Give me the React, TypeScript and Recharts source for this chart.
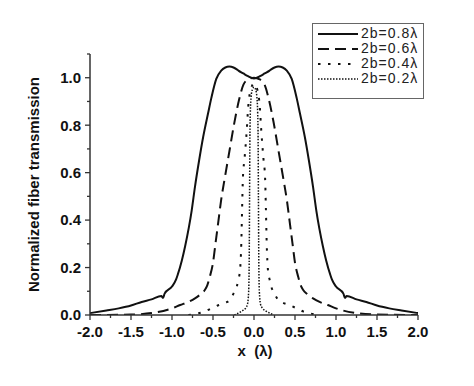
import React from 'react';
import { LineChart, Line, XAxis, YAxis, Legend } from 'recharts';

const FONT = "'Liberation Sans', Arial, Helvetica, sans-serif";

const xTicks = [-2, -1.75, -1.5, -1.25, -1, -0.75, -0.5, -0.25, 0, 0.25, 0.5, 0.75, 1, 1.25, 1.5, 1.75, 2];
const yTicks = [0, 0.1, 0.2, 0.3, 0.4, 0.5, 0.6, 0.7, 0.8, 0.9, 1.0, 1.1];
const seriesNames = ['2b=0.8λ', '2b=0.6λ', '2b=0.4λ', '2b=0.2λ'];
const xLabel = 'x  (λ)';
const yLabel = 'Normalized fiber transmission';

// 2b = 0.8 lambda
const x08 = [-2, -1.8, -1.65, -1.5, -1.37, -1.25, -1.13, -1.11, -1.09, -1.0, -0.95, -0.93, -0.88, -0.84, -0.76, -0.72, -0.67, -0.62, -0.56, -0.52, -0.46, -0.4, -0.35, -0.3, -0.25, -0.21, -0.19, -0.13, -0.08, 0,
  0.08, 0.13, 0.19, 0.21, 0.25, 0.3, 0.35, 0.4, 0.46, 0.52, 0.56, 0.62, 0.67, 0.72, 0.76, 0.84, 0.88, 0.93, 0.95, 1.0, 1.09, 1.11, 1.13, 1.25, 1.37, 1.5, 1.65, 1.8, 2];
const y08 = [0.008, 0.019, 0.028, 0.04, 0.055, 0.066, 0.08, 0.072, 0.09, 0.12, 0.15, 0.17, 0.23, 0.29, 0.44, 0.54, 0.65, 0.75, 0.85, 0.915, 0.995, 1.03, 1.043, 1.047, 1.043, 1.035, 1.03, 1.018, 1.008, 0.997,
  1.008, 1.018, 1.03, 1.035, 1.043, 1.047, 1.043, 1.03, 0.995, 0.915, 0.85, 0.75, 0.65, 0.54, 0.44, 0.29, 0.23, 0.17, 0.15, 0.12, 0.09, 0.072, 0.08, 0.066, 0.055, 0.04, 0.028, 0.019, 0.008];

// 2b = 0.6 lambda
const x06 = [-2, -1.5, -1.25, -1.0, -0.9, -0.8, -0.72, -0.65, -0.6, -0.57, -0.54, -0.5, -0.47, -0.44, -0.4, -0.355, -0.3, -0.24, -0.18, -0.13, -0.07, 0,
  0.07, 0.13, 0.18, 0.24, 0.3, 0.355, 0.4, 0.44, 0.47, 0.5, 0.54, 0.57, 0.6, 0.65, 0.72, 0.8, 0.9, 1.0, 1.25, 1.5, 2];
const y06 = [0, 0.002, 0.008, 0.028, 0.042, 0.055, 0.07, 0.088, 0.105, 0.125, 0.16, 0.22, 0.3, 0.38, 0.486, 0.58, 0.69, 0.81, 0.91, 0.97, 0.993, 1.0,
  0.993, 0.97, 0.91, 0.81, 0.69, 0.58, 0.486, 0.38, 0.3, 0.22, 0.16, 0.125, 0.105, 0.088, 0.07, 0.055, 0.042, 0.028, 0.008, 0.002, 0];

// 2b = 0.4 lambda
const x04 = [-0.8, -0.74, -0.6, -0.52, -0.43, -0.35, -0.305, -0.25, -0.21, -0.19, -0.17, -0.155, -0.145, -0.135, -0.115, -0.09, -0.07, -0.04, 0,
  0.04, 0.07, 0.09, 0.115, 0.135, 0.145, 0.155, 0.17, 0.19, 0.21, 0.25, 0.305, 0.35, 0.43, 0.52, 0.6, 0.74, 0.8];
const y04 = [0, 0.003, 0.015, 0.028, 0.042, 0.052, 0.06, 0.09, 0.12, 0.15, 0.19, 0.3, 0.45, 0.58, 0.66, 0.77, 0.88, 0.95, 0.975,
  0.95, 0.88, 0.77, 0.66, 0.58, 0.45, 0.3, 0.19, 0.15, 0.12, 0.09, 0.06, 0.052, 0.042, 0.028, 0.015, 0.003, 0];

// 2b = 0.2 lambda
const x02 = [-0.24, -0.22, -0.18, -0.14, -0.1, -0.08, -0.065, -0.058, -0.054, -0.05, -0.045, -0.035, -0.02, 0,
  0.02, 0.035, 0.045, 0.05, 0.054, 0.058, 0.065, 0.08, 0.1, 0.14, 0.18, 0.22, 0.24];
const y02 = [0, 0.003, 0.01, 0.018, 0.03, 0.045, 0.1, 0.25, 0.5, 0.75, 0.85, 0.92, 0.95, 0.96,
  0.95, 0.92, 0.85, 0.75, 0.5, 0.25, 0.1, 0.045, 0.03, 0.018, 0.01, 0.003, 0];

const toPoints = (xs: number[], ys: number[]) => xs.map((x, i) => ({ x, y: ys[i] }));
const data08 = toPoints(x08, y08);
const data06 = toPoints(x06, y06);
const data04 = toPoints(x04, y04);
const data02 = toPoints(x02, y02);

const styles = [
  { dash: undefined as string | undefined, width: 2 },
  { dash: '11 6', width: 2 },
  { dash: '2.5 7.5', width: 2 },
  { dash: '1.5 1.5', width: 1.5 },
];

const INK = '#111';

const isMult = (v: number, step: number) => Math.abs(v / step - Math.round(v / step)) < 1e-6;

const XTick = (props: any) => {
  const { x, y, payload } = props;
  const v = payload.value as number;
  const major = isMult(v, 0.5);
  return (
    <g>
      <line x1={x} x2={x} y1={y} y2={y + (major ? 5 : 3)} stroke="#333" strokeWidth={1.3} />
      {major && (
        <text x={x} y={y + 22} textAnchor="middle" fontFamily={FONT} fontWeight="bold" fontSize={15} fill="#111">
          {v.toFixed(1)}
        </text>
      )}
    </g>
  );
};

const YTick = (props: any) => {
  const { x, y, payload } = props;
  const v = payload.value as number;
  const major = isMult(v, 0.2) && v < 1.05;
  return (
    <g>
      <line x1={x} x2={x - (major ? 5 : 3)} y1={y} y2={y} stroke="#333" strokeWidth={1.3} />
      {major && (
        <text x={x - 9} y={y} dy="0.36em" textAnchor="end" fontFamily={FONT} fontWeight="bold" fontSize={15} fill="#111">
          {v.toFixed(1)}
        </text>
      )}
    </g>
  );
};

const renderLegend = () => (
  <div
    style={{
      width: 112,
      height: 76,
      boxSizing: 'border-box',
      border: '1px solid #666',
      background: '#fff',
      paddingTop: 2,
      fontFamily: FONT,
    }}
  >
    {seriesNames.map((name, i) => (
      <div key={name} style={{ display: 'flex', alignItems: 'center', height: 15 }}>
        <svg width={42} height={6} style={{ marginLeft: 5, display: 'block' }}>
          <line x1={0} x2={40} y1={3} y2={3} stroke={INK} strokeWidth={styles[i].width} strokeDasharray={styles[i].dash} />
        </svg>
        <span style={{ fontSize: 14, letterSpacing: 1, color: '#222', marginLeft: 1, lineHeight: '15px' }}>{name}</span>
      </div>
    ))}
  </div>
);

const XLabel = (props: any) => {
  const vb = props.viewBox || { x: 82, y: 307, width: 328 };
  return (
    <text
      x={vb.x + vb.width / 2 + 1}
      y={vb.y + 41}
      textAnchor="middle"
      fontFamily={FONT}
      fontWeight="bold"
      fontSize={15}
      fill="#111"
      style={{ whiteSpace: 'pre' }}
    >
      {xLabel}
    </text>
  );
};

const YLabel = (props: any) => {
  const vb = props.viewBox || { x: 0, y: 46, width: 82, height: 261 };
  const cx = 25;
  const cy = vb.y + vb.height / 2;
  return (
    <text
      x={cx}
      y={cy}
      transform={`rotate(-90 ${cx} ${cy})`}
      textAnchor="middle"
      dominantBaseline="central"
      fontFamily={FONT}
      fontWeight="bold"
      fontSize={15}
      fill="#111"
    >
      {yLabel}
    </text>
  );
};

export default function App() {
  return (
    <div style={{ width: 466, height: 378, position: 'relative', background: '#fff' }}>
      <LineChart width={466} height={378} margin={{ top: 46, right: 56, bottom: 0, left: 0 }}>
        <XAxis
          type="number"
          dataKey="x"
          domain={[-2, 2]}
          ticks={xTicks}
          interval={0}
          allowDataOverflow
          height={71}
          tickSize={0}
          tickMargin={0}
          tickLine={false}
          axisLine={{ stroke: '#333', strokeWidth: 1.5 }}
          tick={<XTick />}
          label={{ content: <XLabel /> } as any}
        />
        <YAxis
          type="number"
          dataKey="y"
          domain={[0, 1.1]}
          ticks={yTicks}
          interval={0}
          allowDataOverflow
          width={82}
          tickSize={0}
          tickMargin={0}
          tickLine={false}
          axisLine={{ stroke: '#333', strokeWidth: 1.5 }}
          tick={<YTick />}
          label={{ content: <YLabel /> } as any}
        />
        <Legend
          layout="vertical"
          align="center"
          verticalAlign="middle"
          content={renderLegend}
          wrapperStyle={{ left: 304, top: 15, width: 112, height: 76 }}
        />
        <Line data={data08} dataKey="y" name={seriesNames[0]} type="monotone" stroke={INK} strokeWidth={styles[0].width} dot={false} activeDot={false} isAnimationActive={false} />
        <Line data={data06} dataKey="y" name={seriesNames[1]} type="monotone" stroke={INK} strokeWidth={styles[1].width} strokeDasharray={styles[1].dash} dot={false} activeDot={false} isAnimationActive={false} />
        <Line data={data04} dataKey="y" name={seriesNames[2]} type="monotone" stroke={INK} strokeWidth={styles[2].width} strokeDasharray={styles[2].dash} dot={false} activeDot={false} isAnimationActive={false} />
        <Line data={data02} dataKey="y" name={seriesNames[3]} type="monotone" stroke={INK} strokeWidth={styles[3].width} strokeDasharray={styles[3].dash} dot={false} activeDot={false} isAnimationActive={false} />
      </LineChart>
    </div>
  );
}
